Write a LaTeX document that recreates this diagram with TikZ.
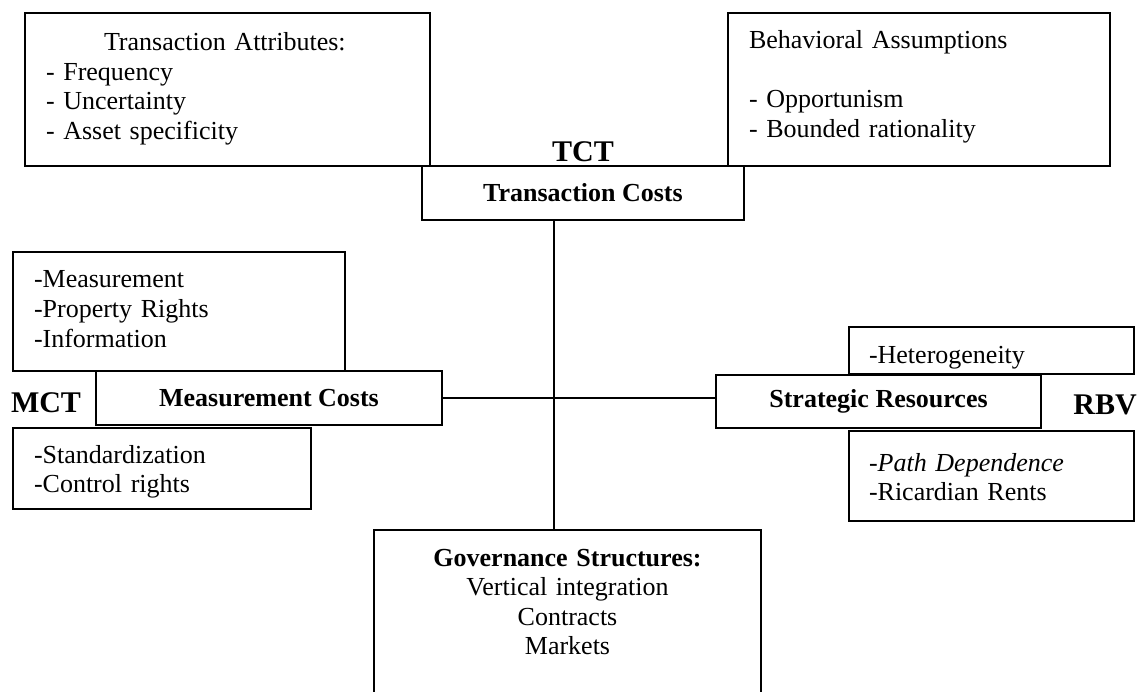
\documentclass[tikz,border=0pt]{standalone}
\usepackage{fontspec}
\setmainfont{Liberation Serif}
\tikzset{
  note/.style={draw, line width=2pt, anchor=north west, align=left, inner ysep=0pt,
    font=\fontsize{26}{29.5}\selectfont},
  costbox/.style={draw, line width=2pt, inner sep=0pt, font=\fontsize{26}{29.5}\selectfont\bfseries},
  theory/.style={anchor=base, font=\fontsize{30}{34}\selectfont\bfseries},
}
\begin{document}
\begin{tikzpicture}[x=1pt, y=-1pt, line width=2pt]
  \pgfmathsetmacro{\hubx}{554}
  \pgfmathsetmacro{\huby}{398}
  \useasboundingbox (0,0) rectangle (1142,692);
  \clip (0,0) rectangle (1142,692);
  \coordinate (hub) at (\hubx,\huby);
  % TCT
  \node[note, inner xsep=21pt, text width=363pt, text height=38pt, text depth=115pt] (attr) at (24,12)
    {\hspace*{58pt}Transaction Attributes:\\- Frequency\\- Uncertainty\\- Asset specificity};
  \node[note, inner xsep=21pt, text width=340pt, text height=36pt, text depth=117pt] (behav) at (727,12)
    {Behavioral Assumptions\\[29.5pt]- Opportunism\\- Bounded rationality};
  \node[theory] (tct) at (583,162) {TCT};
  \node[costbox, minimum width=322pt, minimum height=54pt] (tc) at (583,193) {Transaction Costs};
  % MCT
  \node[note, inner xsep=21pt, text width=290pt, text height=36pt, text depth=83pt] (meas) at (12,251)
    {-Measurement\\-Property Rights\\-Information};
  \node[costbox, minimum width=346pt, minimum height=54pt] (mc) at (269,398) {Measurement Costs};
  \node[theory] (mct) at (46,412) {MCT};
  \node[note, inner xsep=21pt, text width=256pt, text height=35pt, text depth=46pt] (stand) at (12,427)
    {-Standardization\\-Control rights};
  % RBV
  \node[note, inner xsep=20pt, text width=245pt, text height=36pt, text depth=11pt] (hetero) at (848,326)
    {-Heterogeneity};
  \node[costbox, minimum width=325pt, minimum height=53pt] (sr) at (878.5,401.5) {Strategic Resources};
  \node[theory] (rbv) at (1105,414) {RBV};
  \node[note, inner xsep=20pt, text width=245pt, text height=40pt, text depth=50pt] (path) at (848,430)
    {-\textit{Path Dependence}\\-Ricardian Rents};
  % governance
  \node[note, anchor=north, align=center, inner xsep=0pt, text width=387pt, text height=36pt, text depth=160pt] (gov) at (567.5,529)
    {\textbf{Governance Structures:}\\Vertical integration\\Contracts\\Markets};
  \draw (hub |- tc.south) -- (hub |- gov.north);
  \draw (mc.east) -- (mc.east -| sr.west);
\end{tikzpicture}
\end{document}
